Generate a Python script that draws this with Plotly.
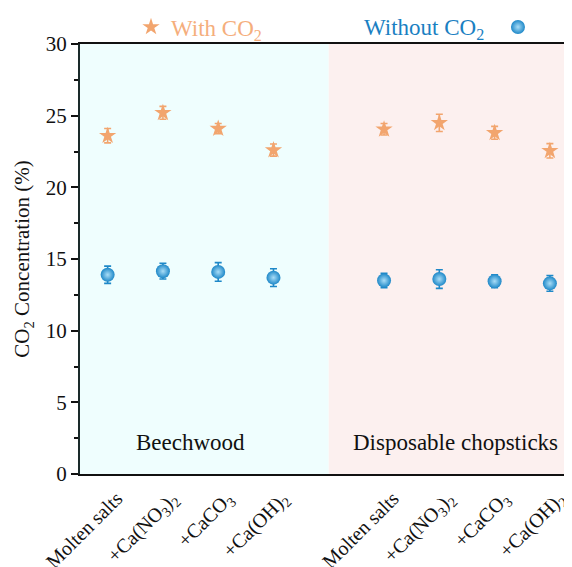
import plotly.graph_objects as go

categories = ["Molten salts", "+Ca(NO<sub>3</sub>)<sub>2</sub>", "+CaCO<sub>3</sub>", "+Ca(OH)<sub>2</sub>"]
x_beech = [1, 2, 3, 4]
x_chop = [6, 7, 8, 9]

with_beech = [23.6, 25.2, 24.1, 22.6]
with_beech_err = [0.5, 0.45, 0.35, 0.42]
with_chop = [24.05, 24.5, 23.8, 22.55]
with_chop_err = [0.4, 0.6, 0.45, 0.5]

without_beech = [13.9, 14.15, 14.1, 13.7]
without_beech_err = [0.6, 0.55, 0.65, 0.62]
without_chop = [13.5, 13.6, 13.45, 13.3]
without_chop_err = [0.5, 0.65, 0.45, 0.55]

orange = "#F2A56E"
blue = "#1E88C8"
font_family = "Liberation Serif, Times New Roman, serif"

# The page body adds an 8px margin, so the figure is sized to the visible area.
W, H = 564, 559

fig = go.Figure()

fig.add_shape(type="rect", xref="x", yref="paper", x0=0.5, x1=5, y0=0, y1=1,
              fillcolor="#EFFEFE", line_width=0, layer="below")
fig.add_shape(type="rect", xref="x", yref="paper", x0=5, x1=9.4, y0=0, y1=1,
              fillcolor="#FCF0EF", line_width=0, layer="below")

fig.add_trace(go.Scatter(
    x=x_beech + x_chop, y=with_beech + with_chop, mode="markers",
    name="With CO<sub>2</sub>", legend="legend",
    marker=dict(symbol="star", size=13, color=orange, line=dict(width=0)),
    error_y=dict(type="data", array=with_beech_err + with_chop_err, color=orange,
                 thickness=1.6, width=3.5),
))

fig.add_trace(go.Scatter(
    x=x_beech + x_chop, y=without_beech + without_chop, mode="markers",
    name="", legend="legend2",
    marker=dict(symbol="circle", size=14, color=blue, line=dict(width=0),
                gradient=dict(type="radial", color="#A9DDF7")),
    error_y=dict(type="data", array=without_beech_err + without_chop_err, color=blue,
                 thickness=1.6, width=3.5),
))

fig.add_annotation(x=2.5, y=2.2, text="Beechwood", showarrow=False,
                   font=dict(family=font_family, size=23, color="#111111"))
fig.add_annotation(x=7.3, y=2.2, text="Disposable chopsticks", showarrow=False,
                   font=dict(family=font_family, size=23, color="#111111"))

fig.update_layout(
    width=W, height=H,
    margin=dict(l=72, r=0, t=36, b=93, autoexpand=False),
    paper_bgcolor="white", plot_bgcolor="white",
    font=dict(family=font_family, size=20, color="#111111"),
    showlegend=True,
    legend=dict(orientation="h", xref="container", yref="container",
                x=123 / W, y=1 - 19 / H, xanchor="left", yanchor="middle",
                font=dict(family=font_family, size=23, color="#F5AE7C"),
                bgcolor="rgba(0,0,0,0)", itemwidth=30),
    legend2=dict(orientation="h", xref="container", yref="container",
                 x=354 / W, y=1 - 19 / H, xanchor="left", yanchor="middle",
                 title=dict(text="Without CO<sub>2</sub>&nbsp;", side="left",
                            font=dict(family=font_family, size=23, color="#1A80C2")),
                 font=dict(family=font_family, size=23, color="#1A80C2"),
                 bgcolor="rgba(0,0,0,0)", itemwidth=30),
    xaxis=dict(
        range=[0.5, 9.4], tickmode="array", tickvals=x_beech + x_chop,
        ticktext=categories + categories, tickangle=-45, automargin=False,
        ticklabelshift=9, ticklabelstandoff=3, ticklabeloverflow="allow",
        tickfont=dict(family=font_family, size=20, color="#111111"),
        showgrid=False, zeroline=False, ticks="",
        showline=True, linecolor="#111111", linewidth=2, mirror=True,
    ),
    yaxis=dict(
        range=[0, 30], tickvals=[0, 5, 10, 15, 20, 25, 30], automargin=False,
        showgrid=False, zeroline=False,
        ticks="outside", ticklen=7, tickwidth=1.5, tickcolor="#111111",
        minor=dict(tickvals=[2.5, 7.5, 12.5, 17.5, 22.5, 27.5], ticks="outside",
                   ticklen=4, tickwidth=1.5, tickcolor="#111111"),
        showline=True, linecolor="#1a2a2a", linewidth=2,
        tickfont=dict(family=font_family, size=21, color="#111111"),
        title=dict(text="CO<sub>2</sub> Concentration (%)", standoff=10,
                   font=dict(family=font_family, size=21, color="#111111")),
    ),
)

fig.write_html("out.html")
